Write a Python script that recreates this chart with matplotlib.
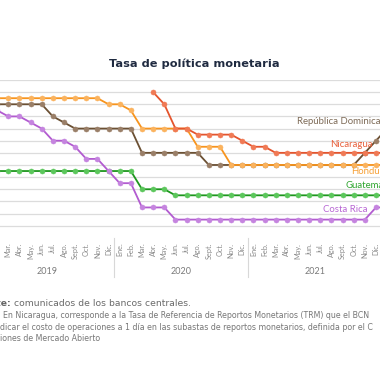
import matplotlib
matplotlib.use("Agg")
import matplotlib.pyplot as plt
from matplotlib.transforms import blended_transform_factory
from matplotlib.lines import Line2D
import numpy as np

# ---------------- data (Jan 2019 ... Jan 2022, monthly) ----------------
month_labels = ["Ene.", "Feb.", "Mar.", "Abr.", "May.", "Jun.", "Jul.",
                "Ago.", "Sept.", "Oct.", "Nov.", "Dic."]
years = ["2019", "2020", "2021", "2022"]

honduras = [5.75]*11 + [5.5, 5.5, 5.25] + [4.5]*5 + [3.75]*3 + [3.0]*15
nicaragua = [None]*15 + [6.0, 5.5, 4.5, 4.5] + [4.25]*4 + [4.0, 3.75, 3.75] + [3.5]*11
rep_dom = [5.5]*6 + [5.0, 4.75] + [4.5]*6 + [3.5]*6 + [3.0]*14 + [3.5, 4.0, 4.5]
guatemala = [2.75]*14 + [2.0]*3 + [1.75]*20
costa_rica = [5.25, 5.25, 5.0, 5.0, 4.75, 4.5, 4.0, 4.0, 3.75, 3.25, 3.25, 2.75,
              2.25, 2.25, 1.25, 1.25, 1.25] + [0.75]*18 + [1.25, 1.25]

series = [
    ("República Dominicana", rep_dom, "#6b5033", "#9a7f68", "#7d6a56", (27.91, 4.78)),
    ("Honduras", honduras, "#f7941d", "#fbb35e", "#f7a035", (32.76, 2.75)),
    ("Nicaragua", nicaragua, "#e4542d", "#f07a55", "#e8603c", (30.9, 3.85)),
    ("Guatemala", guatemala, "#1e961e", "#5cc75c", "#2ea52e", (32.3, 2.17)),
    ("Costa Rica", costa_rica, "#b25bd0", "#c584df", "#b866d4", (30.2, 1.15)),
]

# ---------------- figure ----------------
W = H = 380
fig = plt.figure(figsize=(W/100, H/100), dpi=100)
top_px, bot_px = 80, 237.8
ax = fig.add_axes([0, 1 - bot_px/H, 1, (bot_px - top_px)/H])
ax.set_xlim(1.255, 35.36)
ax.set_ylim(0, 6.5)
for s in ax.spines.values():
    s.set_visible(False)

for g in np.arange(0.5, 6.51, 0.5):
    ax.axhline(g, color="#dcdcdc", lw=0.9, zorder=0)

n = len(honduras)
x = np.arange(n)
for name, vals, lc, mc, tc, (lx, ly) in series:
    y = np.array([np.nan if v is None else v for v in vals], dtype=float)
    ax.plot(x, y, color=lc, lw=1.3, marker="o", ms=3.6, mfc=mc, mec=mc,
            mew=0.4, zorder=3, clip_on=False)
    ax.text(lx, ly, name, color=tc, fontsize=6.9, family="Lato",
            ha="left", va="center", zorder=4)

ticks = list(range(2, 36))
ax.set_xticks(ticks)
ax.set_xticklabels([month_labels[i % 12] for i in ticks], rotation=90,
                   fontsize=5.2, color="#8a8a8a", family="Lato", va="top")
ax.tick_params(axis="x", length=0, pad=3.5)
ax.set_yticks([])

bt = blended_transform_factory(ax.transData, fig.transFigure)
for k, yr in enumerate(years):
    ax.text(k*12 + 5.5, 1 - 272/H, yr, transform=bt, ha="center", va="center",
            fontsize=6.5, color="#7a7a7a", family="Lato", clip_on=False)
for k in range(1, 4):
    fig.add_artist(Line2D([k*12 - 0.5]*2, [1 - 238/H, 1 - 277/H], transform=bt,
                          color="#d8d8d8", lw=0.8))

fig.text(194/W, 1 - 64/H, "Tasa de política monetaria", ha="center", va="center",
         fontsize=8.2, fontweight="bold", color="#1f2a40", family="DejaVu Sans")

# footer
fig.text(11/W, 1 - 303/H, "Fuente:", ha="right", va="center", fontsize=6.7,
         fontweight="bold", color="#666666", family="DejaVu Sans")
fig.text(14/W, 1 - 303/H, "comunicados de los bancos centrales.", ha="left",
         va="center", fontsize=6.7, color="#6a6a6a", family="DejaVu Sans")
notes = ["En Nicaragua, corresponde a la Tasa de Referencia de Reportos Monetarios (TRM) que el BCN",
         "dicar el costo de operaciones a 1 día en las subastas de reportos monetarios, definida por el C",
         "iones de Mercado Abierto"]
for k, t in enumerate(notes):
    fig.text((3 if k == 0 else 0)/W, 1 - (315.5 + 11.6*k)/H, t, ha="left", va="center",
             fontsize=5.7, color="#777777", family="DejaVu Sans")

fig.savefig("out.png", dpi=100, facecolor="white")
